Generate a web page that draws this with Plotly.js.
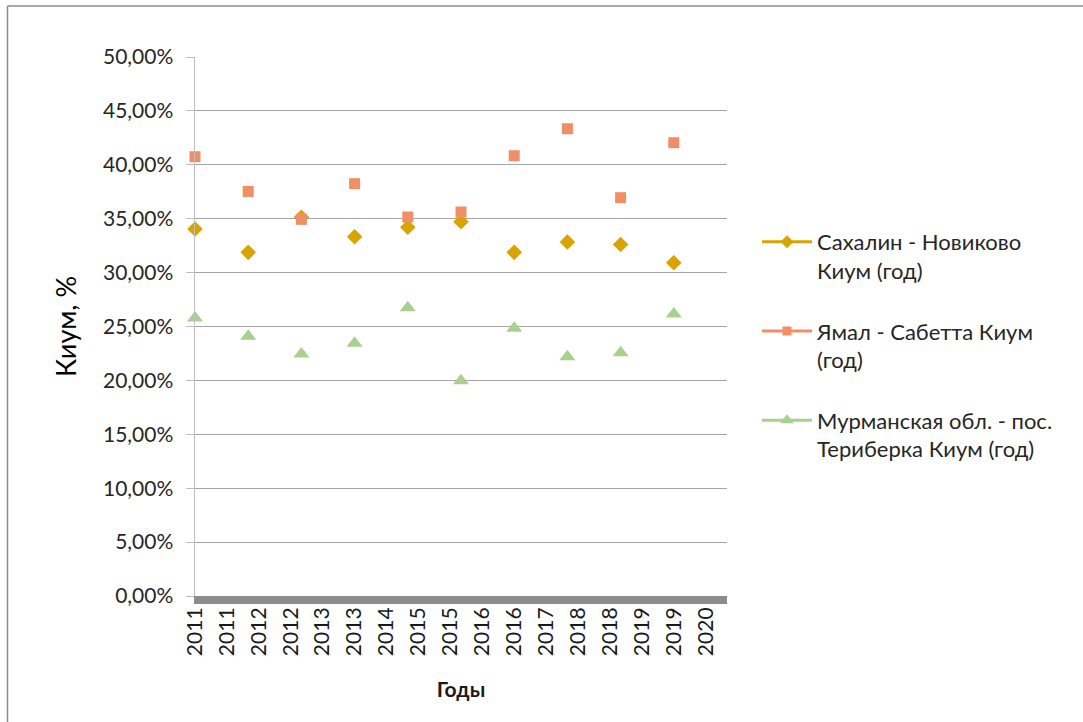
<!DOCTYPE html>
<html>
<head>
<meta charset="utf-8">
<script src="https://cdn.plot.ly/plotly-3.0.1.min.js"></script>
<style>
  html, body { margin: 0; padding: 0; background: #ffffff; }
  #chart { width: 1083px; height: 722px; }
</style>
</head>
<body>
<div id="chart"></div>
<script>
// ---- data ----
const years = [2011, 2012, 2013, 2014, 2015, 2016, 2017, 2018, 2019, 2020];
const sakhalin = [0.3404, 0.3188, 0.3513, 0.3333, 0.3420, 0.3472, 0.3188, 0.3284, 0.3260, 0.3092];
const yamal    = [0.4075, 0.3753, 0.3494, 0.3825, 0.3516, 0.3562, 0.4084, 0.4335, 0.3695, 0.4205];
const murmansk = [0.2580, 0.2410, 0.2245, 0.2344, 0.2675, 0.1997, 0.2484, 0.2220, 0.2257, 0.2616];
const seriesNames = [
  'Сахалин - Новиково<br>Киум (год)',
  'Ямал - Сабетта Киум<br>(год)',
  'Мурманская обл. - пос.<br>Териберка Киум (год)'
];
const tickLabels = ['2011','2011','2012','2012','2013','2013','2014','2015','2015',
                    '2016','2016','2017','2018','2018','2019','2019','2020'];

// ---- styles ----
const colors = ['#D9A400', '#F08F66', '#A9D08E'];
const symbols = ['diamond', 'square', 'triangle-up'];
const sizes = [12, 11, 14];
const seriesData = [sakhalin, yamal, murmansk];
const FONT = 'Lato, "Noto Sans", sans-serif';

const traces = [];
seriesData.forEach((vals, i) => {
  traces.push({
    type: 'scatter', mode: 'markers',
    x: years, y: vals,
    name: seriesNames[i],
    showlegend: false,
    cliponaxis: false,
    marker: { symbol: symbols[i], size: sizes[i], color: colors[i], line: { width: 0 } },
    hoverinfo: 'x+y'
  });
});
// legend entries (line + marker, as in the original legend)
seriesData.forEach((vals, i) => {
  traces.push({
    type: 'scatter', mode: 'lines+markers',
    x: [null], y: [null],
    name: seriesNames[i],
    legendgroup: 'g' + i,
    showlegend: true,
    line: { color: colors[i], width: 3 },
    marker: { symbol: symbols[i], size: sizes[i] - 2, color: colors[i] }
  });
});

const tickVals = tickLabels.map((_, k) => years[0] + 0.6 * k);

// plot area: x 195..727, y 57..596
const L = 195, R = 727, T = 57, B = 596;
const W = R - L, H = B - T;
const px = v => (v - L) / W;
const py = v => (B - v) / H;

const layout = {
  width: 1083, height: 722,
  margin: { l: L, r: 1083 - R, t: T, b: 722 - B, pad: 0 },
  paper_bgcolor: '#ffffff', plot_bgcolor: '#ffffff',
  separators: ', ',
  font: { family: FONT, size: 20, color: '#404040' },
  showlegend: true,
  legend: {
    x: px(757), y: py(221), xanchor: 'left', yanchor: 'top',
    valign: 'top',
    font: { family: FONT, size: 22, color: '#262626' },
    tracegroupgap: 29,
    itemwidth: 50,
    bgcolor: 'rgba(0,0,0,0)'
  },
  xaxis: {
    range: [2011, 2021],
    tickmode: 'array', tickvals: tickVals, ticktext: tickLabels,
    tickangle: -90,
    showgrid: false, zeroline: false,
    showline: true, linecolor: '#8C8C8C', linewidth: 8,
    ticks: '',
    ticklabelstandoff: -5,
    tickfont: { family: FONT, size: 21, color: '#1a1a1a' },
    title: { text: '<b>Годы</b>', font: { family: FONT, size: 21, color: '#1a1a1a' }, standoff: 30 },
    fixedrange: true
  },
  yaxis: {
    range: [0, 0.5],
    tick0: 0, dtick: 0.05,
    tickformat: '.2%',
    showgrid: true, gridcolor: '#A6A6A6', gridwidth: 1,
    zeroline: false,
    showline: true, linecolor: '#BFBFBF', linewidth: 1.5,
    ticks: 'outside', ticklen: 8, tickcolor: '#BFBFBF', tickwidth: 1,
    ticklabelstandoff: 8,
    tickfont: { family: FONT, size: 21, color: '#262626' },
    title: { text: 'Киум, %', font: { family: FONT, size: 27, color: '#000000' }, standoff: 18 },
    fixedrange: true
  },
  shapes: [
    { type: 'line', xref: 'paper', yref: 'paper', x0: px(7.5), x1: px(1083), y0: py(6), y1: py(6),
      line: { color: '#8C8C8C', width: 1.5 } },
    { type: 'line', xref: 'paper', yref: 'paper', x0: px(7.5), x1: px(7.5), y0: py(6), y1: py(722),
      line: { color: '#8C8C8C', width: 1.5 } }
  ]
};

Plotly.newPlot('chart', traces, layout, { displayModeBar: false, staticPlot: true });
</script>
</body>
</html>
